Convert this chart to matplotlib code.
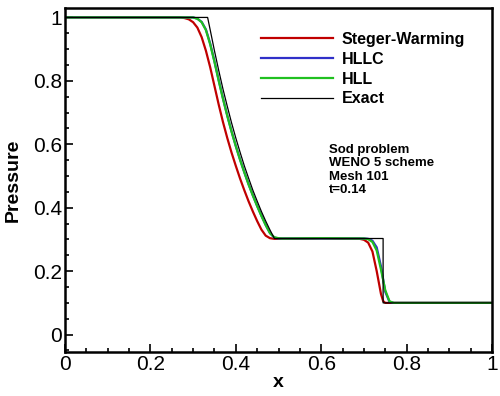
"""Sod problem pressure, WENO5, three flux schemes vs exact."""
import matplotlib
matplotlib.use('Agg')
import matplotlib.pyplot as plt
from matplotlib.ticker import MultipleLocator

plt.rcParams['font.family'] = ['Liberation Sans', 'DejaVu Sans']

x_exact = [0.0, 0.334, 0.34, 0.35, 0.36, 0.37, 0.38, 0.39, 0.40, 0.41, 0.42,
           0.43, 0.44, 0.45, 0.46, 0.47, 0.48, 0.49, 0.4903, 0.745, 0.745, 1.0]
p_exact = [1.0, 1.0, 0.961, 0.895, 0.833, 0.774, 0.720, 0.668, 0.620, 0.575,
           0.532, 0.493, 0.455, 0.421, 0.388, 0.358, 0.330, 0.304, 0.303,
           0.303, 0.1, 0.1]

# Steger-Warming
x_sw = [0.0, 0.27, 0.28, 0.29, 0.30, 0.31, 0.32, 0.33, 0.34, 0.35, 0.36, 0.37,
        0.38, 0.39, 0.40, 0.41, 0.42, 0.43, 0.44, 0.45, 0.46, 0.47, 0.48, 0.49,
        0.50, 0.55, 0.60, 0.65, 0.69, 0.70, 0.71, 0.72, 0.73, 0.74, 0.745,
        0.75, 0.76, 1.0]
p_sw = [1.0, 1.0, 0.998, 0.994, 0.985, 0.968, 0.938, 0.895, 0.843, 0.784,
        0.725, 0.670, 0.620, 0.574, 0.532, 0.492, 0.455, 0.420, 0.388, 0.358,
        0.331, 0.312, 0.304, 0.302, 0.302, 0.302, 0.303, 0.302, 0.302, 0.299,
        0.290, 0.262, 0.200, 0.128, 0.106, 0.100, 0.100, 0.100]

# HLLC
x_hllc = [0.0, 0.30, 0.31, 0.32, 0.33, 0.34, 0.35, 0.36, 0.37, 0.38, 0.39,
          0.40, 0.41, 0.42, 0.43, 0.44, 0.45, 0.46, 0.47, 0.48, 0.49, 0.50,
          0.51, 0.60, 0.70, 0.71, 0.72, 0.73, 0.74, 0.75, 0.76, 0.77, 1.0]
p_hllc = [1.0, 1.0, 0.996, 0.986, 0.962, 0.918, 0.862, 0.802, 0.745, 0.691,
          0.641, 0.595, 0.552, 0.512, 0.474, 0.439, 0.406, 0.375, 0.346,
          0.320, 0.306, 0.303, 0.303, 0.303, 0.303, 0.302, 0.296, 0.275,
          0.215, 0.135, 0.103, 0.100, 0.100]

# HLL
x_hll = [0.0, 0.30, 0.31, 0.32, 0.33, 0.34, 0.35, 0.36, 0.37, 0.38, 0.39,
         0.40, 0.41, 0.42, 0.43, 0.44, 0.45, 0.46, 0.47, 0.48, 0.49, 0.50,
         0.51, 0.60, 0.70, 0.71, 0.72, 0.73, 0.74, 0.75, 0.76, 0.77, 1.0]
p_hll = [1.0, 1.0, 0.996, 0.985, 0.960, 0.915, 0.860, 0.800, 0.743, 0.690,
         0.640, 0.594, 0.551, 0.511, 0.473, 0.438, 0.405, 0.374, 0.345,
         0.320, 0.307, 0.304, 0.303, 0.304, 0.303, 0.301, 0.292, 0.265,
         0.205, 0.140, 0.105, 0.100, 0.100]

fig = plt.figure(figsize=(5.0, 3.96), dpi=100)
ax = fig.add_axes([0.13, 0.111, 0.854, 0.869])

ax.plot(x_sw, p_sw, color='#c00000', lw=1.6, label='Steger-Warming')
ax.plot(x_hllc, p_hllc, color='#3030c8', lw=1.6, label='HLLC')
ax.plot(x_hll, p_hll, color='#20c020', lw=1.6, label='HLL')
ax.plot(x_exact, p_exact, color='black', lw=0.9, label='Exact')

ax.set_xlim(0, 1)
ax.set_ylim(-0.055, 1.03)
ax.xaxis.set_major_locator(MultipleLocator(0.2))
ax.xaxis.set_minor_locator(MultipleLocator(0.05))
ax.yaxis.set_major_locator(MultipleLocator(0.2))
ax.yaxis.set_minor_locator(MultipleLocator(0.05))
ax.set_xticklabels([f'{v:g}' for v in ax.get_xticks()])
ax.set_yticklabels([f'{v:g}' for v in ax.get_yticks()])
ax.tick_params(which='both', direction='in', top=False, right=False,
               labelsize=15, width=1.2)
ax.tick_params(which='major', length=6, pad=2)
ax.tick_params(which='minor', length=3)
for s in ax.spines.values():
    s.set_linewidth(1.8)

ax.set_xlabel('x', fontsize=14, fontweight='bold', labelpad=0)
ax.set_ylabel('Pressure', fontsize=14, fontweight='bold', labelpad=8)

leg = ax.legend(loc='upper left', bbox_to_anchor=(0.425, 0.972), frameon=False,
                prop={'size': 11.5, 'weight': 'bold'}, handlelength=4.5,
                handletextpad=0.55, labelspacing=0.3)

ax.text(0.618, 0.605, 'Sod problem\nWENO 5 scheme\nMesh 101\nt=0.14',
        transform=ax.transAxes, fontsize=9.5, fontweight='bold',
        va='top', ha='left', linespacing=1.15)

fig.savefig('out.png', dpi=100)
